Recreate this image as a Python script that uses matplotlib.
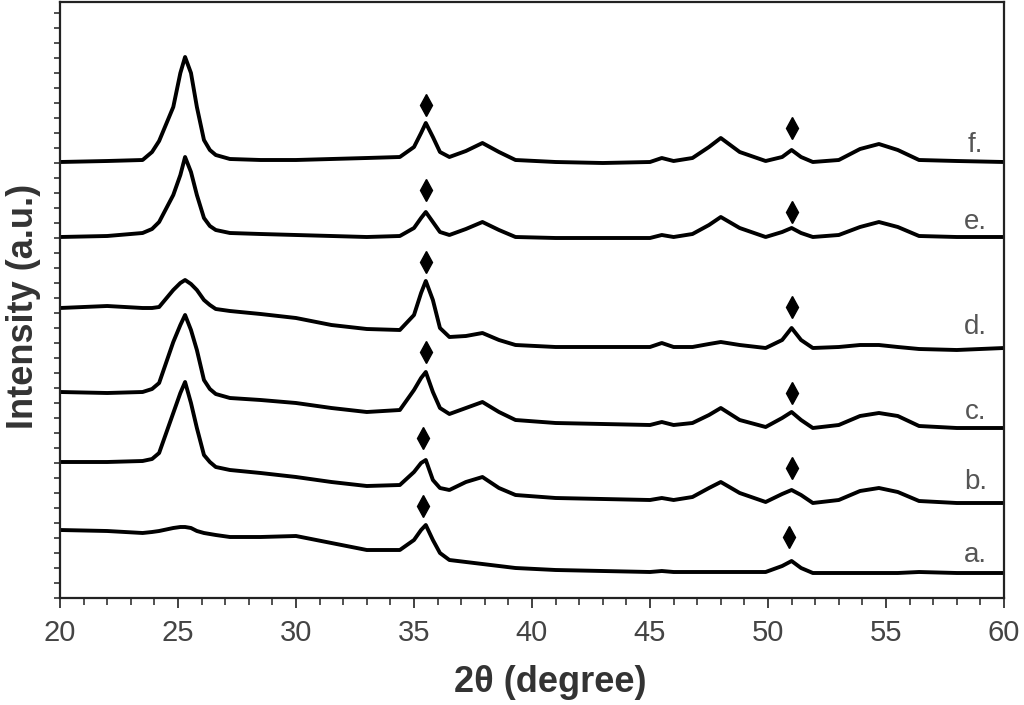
import numpy as np
import matplotlib
matplotlib.use('Agg')
import matplotlib.pyplot as plt
from matplotlib.ticker import MultipleLocator, FixedLocator, NullFormatter

# 2theta grid (degree) the curves were read at
two_theta = [20, 22, 23.5, 23.9, 24.2, 24.8, 25.1, 25.3, 25.55, 25.8, 26.1, 26.35,
             26.6, 27.2, 28.5, 30, 31.5, 33, 34.4, 35.0, 35.3, 35.5, 35.8, 36.1,
             36.5, 37.2, 37.9, 38.6, 39.3, 41, 43, 45, 45.5, 46, 46.8, 47.5, 48.0,
             48.8, 49.9, 50.6, 51.0, 51.4, 51.9, 53.0, 53.9, 54.7, 55.5, 56.4, 58, 60]

# stacked intensities (a.u., offsets included)
int_a = [70, 69, 67, 68, 69, 72, 73, 73, 72, 69, 67, 66, 65, 63, 63, 64, 57, 50, 50,
         60, 70, 75, 60, 47, 40, 38, 36, 34, 32, 30, 29, 28, 29, 28, 28, 28, 28, 28,
         28, 34, 39, 32, 27, 27, 27, 27, 27, 28, 27, 27]
int_b = [138, 138, 139, 141, 147, 187, 207, 218, 197, 172, 145, 138, 133, 130, 127,
         123, 118, 114, 115, 128, 137, 140, 120, 112, 110, 118, 123, 112, 105, 102,
         101, 100, 102, 100, 103, 112, 118, 107, 98, 106, 110, 105, 97, 100, 109,
         112, 108, 99, 97, 97]
int_c = [208, 207, 208, 211, 217, 258, 275, 285, 270, 250, 220, 211, 206, 202, 200,
         197, 192, 188, 190, 210, 222, 228, 208, 192, 186, 192, 198, 188, 180, 177,
         176, 175, 178, 175, 177, 185, 192, 180, 173, 182, 188, 180, 172, 175, 184,
         187, 184, 174, 172, 172]
int_d = [292, 294, 292, 292, 293, 310, 317, 320, 316, 310, 300, 295, 291, 289, 286,
         282, 275, 271, 270, 285, 307, 319, 300, 272, 263, 264, 267, 260, 255, 253,
         253, 253, 257, 253, 253, 256, 258, 255, 252, 260, 272, 260, 252, 253, 255,
         255, 253, 251, 250, 252]
int_e = [363, 364, 367, 371, 378, 405, 425, 443, 428, 405, 382, 374, 370, 367, 366,
         365, 364, 363, 364, 372, 382, 388, 378, 368, 365, 371, 378, 370, 363, 362,
         362, 362, 365, 363, 366, 375, 383, 372, 363, 368, 372, 367, 363, 365, 373,
         378, 373, 364, 363, 363]
int_f = [438, 439, 440, 448, 459, 493, 527, 543, 527, 493, 460, 450, 445, 441, 440,
         440, 441, 442, 443, 453, 467, 477, 463, 448, 443, 449, 457, 448, 440, 438,
         437, 438, 442, 439, 442, 453, 462, 448, 439, 443, 450, 443, 438, 440, 451,
         456, 450, 440, 439, 438]

sample_labels = ['a.', 'b.', 'c.', 'd.', 'e.', 'f.']
label_y = [45, 118, 188, 273, 378, 455]

# diamond markers (two peaks per pattern)
marker_x = [[35.4, 50.9], [35.4, 51.0], [35.5, 51.0], [35.5, 51.0], [35.5, 51.0], [35.5, 51.0]]
marker_y = [[94, 63], [162, 132], [248, 207], [338, 293], [410, 388], [495, 472]]


def main():
    plt.rcParams['font.family'] = ['Liberation Sans', 'DejaVu Sans']
    fig = plt.figure(figsize=(10.24, 7.05), dpi=100)
    ax = fig.add_axes([60 / 1024, 107 / 705, 944 / 1024, 596 / 705])

    curves = [int_a, int_b, int_c, int_d, int_e, int_f]
    for i, ys in enumerate(curves):
        ax.plot(two_theta, ys, color='black', lw=2.8, solid_joinstyle='round')
        ax.plot(marker_x[i], marker_y[i], linestyle='none', marker='d',
                color='black', markersize=11)
        ax.text(58.8, label_y[i], sample_labels[i], fontsize=20, color='#555555',
                ha='center', va='center')

    ax.set_xlim(20, 60)
    ax.set_ylim(2, 598)
    ax.xaxis.set_major_locator(MultipleLocator(5))
    ax.xaxis.set_minor_locator(MultipleLocator(1))
    ax.yaxis.set_major_locator(FixedLocator(np.arange(2, 598, 15)))
    ax.yaxis.set_major_formatter(NullFormatter())

    ax.tick_params(axis='x', which='major', direction='out', length=7, width=1.3,
                   labelsize=21, labelcolor='#444444', color='#333333', pad=8)
    ax.tick_params(axis='x', which='minor', direction='out', length=5, width=1.2,
                   color='#333333')
    ax.tick_params(axis='y', which='major', direction='out', length=4, width=1.2,
                   color='#333333')
    for sp in ax.spines.values():
        sp.set_linewidth(1.6)
        sp.set_color('#222222')

    fig.text(550 / 1024, 1 - 683 / 705, '2θ (degree)', fontsize=26, fontweight='bold',
             color='#333333', ha='center', va='center')
    fig.text(24 / 1024, 1 - 306 / 705, 'Intensity (a.u.)', fontsize=26, fontweight='bold',
             color='#333333', ha='center', va='center', rotation=90)

    fig.savefig('out.png', dpi=100)


if __name__ == "__main__":
    main()
